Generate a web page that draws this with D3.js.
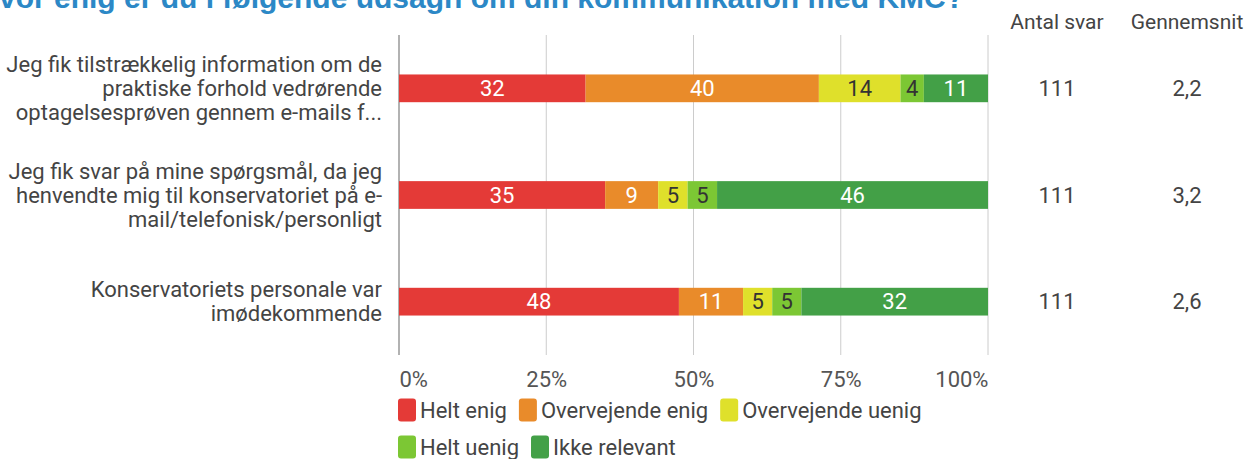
<!DOCTYPE html>
<html>
<head>
<meta charset="utf-8">
<script src="https://cdn.jsdelivr.net/npm/d3@7"></script>
<style>
  body { margin: 0; background: #fff; overflow: hidden; }
  svg { display: block; font-family: Roboto, "Noto Sans", sans-serif; }
</style>
</head>
<body>
<svg id="chart" width="1248" height="459"></svg>
<script>
const title = "Hvor enig er du i følgende udsagn om din kommunikation med KMC?";
const questions = [
  ["Jeg fik tilstrækkelig information om de", "praktiske forhold vedrørende", "optagelsesprøven gennem e-mails f..."],
  ["Jeg fik svar på mine spørgsmål, da jeg", "henvendte mig til konservatoriet på e-", "mail/telefonisk/personligt"],
  ["Konservatoriets personale var", "imødekommende"]
];
const answers = ["Helt enig", "Overvejende enig", "Overvejende uenig", "Helt uenig", "Ikke relevant"];
const helt_enig = [32, 35, 48];
const overvejende_enig = [40, 9, 11];
const overvejende_uenig = [14, 5, 5];
const helt_uenig = [4, 5, 5];
const ikke_relevant = [11, 46, 32];
const antalSvar = ["111", "111", "111"];
const gennemsnit = ["2,2", "3,2", "2,6"];
const ticks = [0, 0.25, 0.5, 0.75, 1];

const colors = ["#e43a37", "#e98b2a", "#dfe02b", "#7cc734", "#43a047"];
const textColors = ["#fff", "#fff", "#333", "#333", "#fff"];
const fs = "22px";

const series = [helt_enig, overvejende_enig, overvejende_uenig, helt_uenig, ikke_relevant];
const rows = questions.map((q, i) => {
  const r = { id: i };
  answers.forEach((a, j) => r[a] = series[j][i]);
  return r;
});

const svg = d3.select("#chart");

// title, cut off at the top-left as in the source image (the "H" falls off the left edge)
const titleText = svg.append("text")
  .attr("y", 8)
  .attr("text-anchor", "start")
  .style("font-family", "'Liberation Sans', Arial, sans-serif")
  .style("font-weight", "bold")
  .style("font-size", "30px")
  .style("fill", "#2c88c6")
  .text("H");
const hWidth = titleText.node().getComputedTextLength();
titleText.text(title).attr("x", -hWidth - 1);

const x = d3.scaleLinear().domain([0, 1]).range([399, 988]);
const y = d3.scaleBand().domain(rows.map(d => d.id)).range([35, 355])
  .paddingInner(0.74).paddingOuter(0.37);

// grid
svg.append("g").selectAll("line")
  .data(ticks)
  .join("line")
  .attr("x1", d => x(d)).attr("x2", d => x(d))
  .attr("y1", 35).attr("y2", 355)
  .attr("stroke", d => d === 0 ? "#999" : "#ccc")
  .attr("stroke-width", d => d === 0 ? 1.5 : 1);

const xAxis = svg.append("g")
  .attr("transform", "translate(0,368)")
  .call(d3.axisBottom(x).tickValues(ticks).tickFormat(d3.format(".0%")).tickSize(0));
xAxis.select(".domain").remove();
xAxis.selectAll("text")
  .style("font-size", fs)
  .style("font-family", "Roboto, sans-serif")
  .attr("fill", "#555")
  .attr("text-anchor", d => d === 0 ? "start" : d === 1 ? "end" : "middle");

// stacked bars normalised per row
const stack = d3.stack().keys(answers).offset(d3.stackOffsetExpand);
const layers = stack(rows);

const g = svg.append("g");
layers.forEach((layer, k) => {
  const lg = g.append("g");
  lg.selectAll("rect")
    .data(layer)
    .join("rect")
    .attr("x", d => x(d[0]))
    .attr("y", d => y(d.data.id))
    .attr("width", d => x(d[1]) - x(d[0]))
    .attr("height", y.bandwidth())
    .attr("fill", colors[k]);
  lg.selectAll("text")
    .data(layer)
    .join("text")
    .attr("x", d => (x(d[0]) + x(d[1])) / 2)
    .attr("y", d => y(d.data.id) + y.bandwidth() / 2)
    .attr("dy", "0.35em")
    .attr("text-anchor", "middle")
    .style("font-size", fs)
    .attr("fill", textColors[k])
    .text(d => d.data[layer.key]);
});

// category labels
const labels = svg.append("g");
questions.forEach((lines, i) => {
  const cy = y(i) + y.bandwidth() / 2;
  const lh = 24;
  lines.forEach((line, j) => {
    labels.append("text")
      .attr("x", 382)
      .attr("y", cy + (j - (lines.length - 1) / 2) * lh)
      .attr("dy", "0.35em")
      .attr("text-anchor", "end")
      .style("font-size", fs)
      .attr("fill", "#444")
      .text(line);
  });
});

// extra columns
const cols = [
  { head: "Antal svar", x: 1057, vals: antalSvar },
  { head: "Gennemsnit", x: 1187, vals: gennemsnit }
];
cols.forEach(c => {
  svg.append("text")
    .attr("x", c.x).attr("y", 22).attr("dy", "0.35em")
    .attr("text-anchor", "middle")
    .style("font-size", "21px")
    .attr("fill", "#444")
    .text(c.head);
  svg.append("g").selectAll("text")
    .data(c.vals)
    .join("text")
    .attr("x", c.x)
    .attr("y", (d, i) => y(i) + y.bandwidth() / 2)
    .attr("dy", "0.35em")
    .attr("text-anchor", "middle")
    .style("font-size", fs)
    .attr("fill", "#444")
    .text(d => d);
});

// legend (flowing, wraps)
const legend = svg.append("g");
let lx = 398, ly = 410;
const maxX = 990;
answers.forEach((a, i) => {
  const item = legend.append("g");
  item.append("rect")
    .attr("width", 18).attr("height", 23)
    .attr("rx", 3)
    .attr("y", -11.5)
    .attr("fill", colors[i]);
  const t = item.append("text")
    .attr("x", 22)
    .attr("dy", "0.35em")
    .style("font-size", fs)
    .attr("fill", "#444")
    .text(a);
  const w = 22 + t.node().getComputedTextLength();
  if (lx + w > maxX) { lx = 398; ly += 37; }
  item.attr("transform", `translate(${lx},${ly})`);
  lx += w + 12;
});
</script>
</body>
</html>
